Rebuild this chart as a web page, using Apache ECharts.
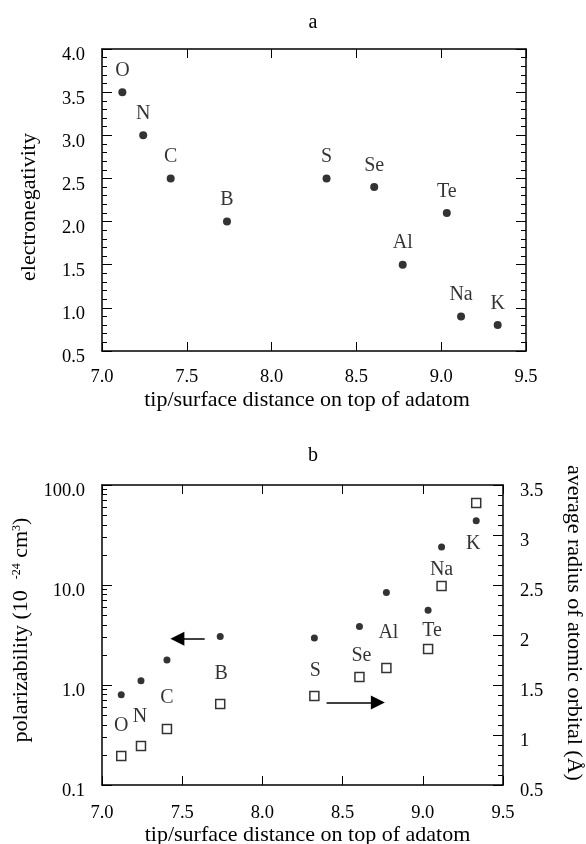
<!DOCTYPE html>
<html>
<head>
<meta charset="utf-8">
<script src="https://cdn.jsdelivr.net/npm/echarts@6/dist/echarts.min.js"></script>
<style>
html, body { margin: 0; padding: 0; background: #fff; }
#chart { width: 586px; height: 844px; }
</style>
</head>
<body>
<div id="chart"></div>
<script>
// element names, same order in both panels
var elements = ['O', 'N', 'C', 'B', 'S', 'Se', 'Al', 'Te', 'Na', 'K'];
// tip/surface distance on top of adatom
var distance = [7.12, 7.243, 7.405, 7.737, 8.324, 8.605, 8.773, 9.033, 9.117, 9.333];
// panel a
var electronegativity = [3.5, 3.0, 2.5, 2.0, 2.5, 2.4, 1.5, 2.1, 0.9, 0.8];
// panel b
var polarizability = [0.80, 1.10, 1.78, 3.05, 2.95, 3.85, 8.4, 5.6, 24.0, 44.0];
var orbitalRadius = [0.79, 0.89, 1.06, 1.31, 1.39, 1.58, 1.67, 1.86, 2.49, 3.32];

// arrows in panel b (data coords): [from, to]
var arrowLeft = [[7.64, 2.9], [7.47, 2.9]];
var arrowRight = [[8.40, 1.325], [8.72, 1.325]];

// label offsets (px) for panel b, relative to the square markers
var labelOffsetB = [[0, -30], [-1, -29], [0, -31], [1, -30], [1, -25], [2, -21], [2, -35], [4, -18], [0, -16], [-3, 41]];

var font = 'Liberation Serif';
var black = '#000';

var chart = echarts.init(document.getElementById('chart'));

function fixed1(v) {
    return Number(v).toFixed(1);
}

function xAxisFor(grid, pos) {
    var ax = {
        gridIndex: grid,
        type: 'value',
        position: pos,
        min: 7,
        max: 9.5,
        interval: 0.5,
        axisLine: { onZero: false, lineStyle: { color: black, width: 1.5 } },
        axisTick: { inside: true, length: 9, lineStyle: { color: black, width: 1 } },
        axisLabel: { show: pos == 'bottom', margin: grid == 0 ? 17 : 19, formatter: fixed1,
            fontFamily: font, fontSize: 18.5, color: black },
        splitLine: { show: false }
    };
    if (pos == 'bottom') {
        ax.name = 'tip/surface distance on top of adatom';
        ax.nameLocation = 'middle';
        ax.nameGap = grid == 0 ? 38 : 35;
        ax.nameTextStyle = { fontFamily: font, fontSize: 22, color: black,
            padding: grid == 0 ? [0, 14, 0, 0] : [0, 0, 0, 10] };
    }
    return ax;
}

var tickStyle = { color: black, width: 1 };
// y tick labels sit a little below their ticks in the original
var yLabel = { margin: 17, fontFamily: font, fontSize: 18.5, color: black, verticalAlign: 'top', lineHeight: 13 };

var option = {
    animation: false,
    backgroundColor: '#fff',
    title: [
        { text: 'a', left: 308, top: 8, textAlign: 'center',
          textStyle: { fontFamily: font, fontSize: 20, fontWeight: 'normal', color: black } },
        { text: 'b', left: 308, top: 441, textAlign: 'center',
          textStyle: { fontFamily: font, fontSize: 20, fontWeight: 'normal', color: black } }
    ],
    grid: [
        { left: 102, right: 60, top: 49, height: 302, outerBoundsMode: 'none', containLabel: false },
        { left: 102, right: 83, top: 485, height: 300, outerBoundsMode: 'none', containLabel: false }
    ],
    xAxis: [
        xAxisFor(0, 'bottom'),
        xAxisFor(0, 'top'),
        xAxisFor(1, 'bottom'),
        xAxisFor(1, 'top')
    ],
    yAxis: [
        {
            gridIndex: 0, type: 'value', position: 'left',
            min: 0.5, max: 4, interval: 0.5,
            axisLine: { onZero: false, lineStyle: { color: black, width: 1.5 } },
            axisTick: { inside: true, length: 10, lineStyle: tickStyle },
            minorTick: { show: true, splitNumber: 5, length: 5, lineStyle: tickStyle },
            axisLabel: Object.assign({ formatter: fixed1 }, yLabel),
            splitLine: { show: false },
            name: 'electronegativity', nameLocation: 'middle', nameGap: 62,
            nameTextStyle: { fontFamily: font, fontSize: 22, color: black, padding: [0, 14, 0, 0] }
        },
        {
            gridIndex: 0, type: 'value', position: 'right',
            min: 0.5, max: 4, interval: 0.5,
            axisLine: { onZero: false, lineStyle: { color: black, width: 1.5 } },
            axisTick: { inside: true, length: 10, lineStyle: tickStyle },
            minorTick: { show: true, splitNumber: 5, length: 5, lineStyle: tickStyle },
            axisLabel: { show: false },
            splitLine: { show: false }
        },
        {
            gridIndex: 1, type: 'log', logBase: 10, position: 'left',
            min: 0.1, max: 100,
            axisLine: { onZero: false, lineStyle: { color: black, width: 1.5 } },
            axisTick: { inside: true, length: 10, lineStyle: tickStyle },
            minorTick: { show: true, splitNumber: 9, length: 5, lineStyle: tickStyle },
            axisLabel: Object.assign({ formatter: fixed1 }, yLabel),
            splitLine: { show: false },
            name: '{t|polarizability (10  }{s|-24}{t| cm}{s|3}{t|)}',
            nameLocation: 'middle', nameGap: 54,
            nameTextStyle: {
                fontFamily: font, fontSize: 22, color: black, padding: [0, 0, 0, 10],
                rich: {
                    t: { fontFamily: font, fontSize: 22, color: black },
                    s: { fontFamily: font, fontSize: 12, color: black, verticalAlign: 'top' }
                }
            }
        },
        {
            gridIndex: 1, type: 'value', position: 'right',
            min: 0.5, max: 3.5, interval: 0.5,
            axisLine: { onZero: false, lineStyle: { color: black, width: 1.5 } },
            axisTick: { inside: true, length: 10, lineStyle: tickStyle },
            minorTick: { show: true, splitNumber: 5, length: 5, lineStyle: tickStyle },
            axisLabel: yLabel,
            splitLine: { show: false },
            name: 'average radius of atomic orbital (Å)',
            nameLocation: 'middle', nameGap: 60, nameRotate: -90,
            nameTextStyle: { fontFamily: font, fontSize: 22, color: black, padding: [0, 24, 0, 0] }
        }
    ],
    series: [
        {
            type: 'scatter',
            xAxisIndex: 0, yAxisIndex: 0,
            symbol: 'circle', symbolSize: 8,
            itemStyle: { color: black },
            data: distance.map(function (d, i) {
                return { name: elements[i], value: [d, electronegativity[i]] };
            }),
            label: {
                show: true, position: 'inside', offset: [0, -21.5],
                formatter: '{b}', fontFamily: font, fontSize: 20, color: black
            }
        },
        {
            type: 'scatter',
            xAxisIndex: 2, yAxisIndex: 2,
            symbol: 'circle', symbolSize: 7,
            itemStyle: { color: black },
            data: distance.map(function (d, i) {
                return [d, polarizability[i]];
            }),
            markLine: {
                silent: true,
                symbol: ['none', 'triangle'],
                symbolSize: 14,
                lineStyle: { color: black, width: 1.5, type: 'solid' },
                label: { show: false },
                data: [[{ coord: arrowLeft[0] }, { coord: arrowLeft[1] }]]
            }
        },
        {
            type: 'scatter',
            xAxisIndex: 2, yAxisIndex: 3,
            symbol: 'rect', symbolSize: 9,
            itemStyle: { color: '#fff', borderColor: black, borderWidth: 1.5 },
            data: distance.map(function (d, i) {
                return {
                    name: elements[i],
                    value: [d, orbitalRadius[i]],
                    label: { offset: labelOffsetB[i] }
                };
            }),
            label: {
                show: true, position: 'inside',
                formatter: '{b}', fontFamily: font, fontSize: 20, color: black
            },
            markLine: {
                silent: true,
                symbol: ['none', 'triangle'],
                symbolSize: 14,
                lineStyle: { color: black, width: 1.5, type: 'solid' },
                label: { show: false },
                data: [[{ coord: arrowRight[0] }, { coord: arrowRight[1] }]]
            }
        }
    ]
};

chart.setOption(option);
</script>
</body>
</html>
